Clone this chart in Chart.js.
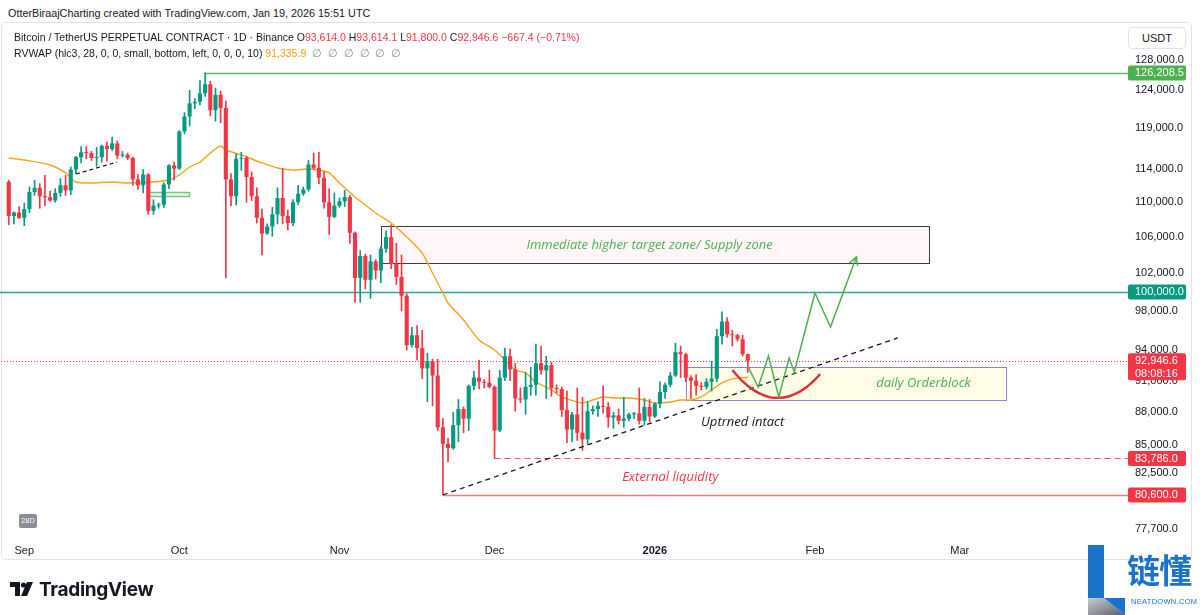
<!DOCTYPE html>
<html><head><meta charset="utf-8">
<script src="https://cdn.jsdelivr.net/npm/chart.js@4.4.1/dist/chart.umd.min.js"></script>
<style>
html,body{margin:0;padding:0;background:#fff;}
body{width:1200px;height:615px;position:relative;overflow:hidden;font-family:"Liberation Sans",Arial,sans-serif;color:#131722;}
#hdr{position:absolute;left:8px;top:7px;font-size:10.8px;white-space:nowrap;}
#frame{position:absolute;left:1px;top:22px;width:1191px;height:538px;border:1px solid #e0e3eb;border-radius:5px;box-sizing:border-box;}
#wrap{position:absolute;left:0;top:22px;width:1192px;height:538px;}
.lg{position:absolute;left:14px;font-size:10.5px;white-space:nowrap;}
.r{color:#f23645}.o{color:#f0a30a}.g{color:#8a8d96}
#usdt{position:absolute;left:1128px;top:27px;width:58px;height:22px;border:1px solid #e0e3eb;border-radius:4px;box-sizing:border-box;font-size:11px;text-align:center;line-height:20px;background:#fff;}
#b28{position:absolute;left:19px;top:514px;width:18px;height:14px;background:#8a8d96;color:#fff;font-size:7.5px;line-height:14px;text-align:center;border-radius:2px;}
#tv{position:absolute;left:10px;top:578px;height:22px;display:flex;align-items:center;}
#tv span{font-family:Inter,"Liberation Sans",sans-serif;font-weight:700;font-size:19px;color:#131722;margin-left:5px;letter-spacing:-0.3px;}
#wm{position:absolute;left:1080px;top:540px;width:120px;height:75px;}
#wmt{position:absolute;left:1127px;top:549px;font-family:"Noto Sans CJK SC",sans-serif;font-weight:700;font-size:33px;color:#1a73c8;line-height:40px;letter-spacing:-1px;}
#wms{position:absolute;left:1131px;top:597px;font-size:7.5px;color:#1a73c8;letter-spacing:0.3px;}
</style></head>
<body>
<div id="hdr">OtterBiraajCharting created with TradingView.com, Jan 19, 2026 15:51 UTC</div>
<div id="frame"></div>
<div id="wrap"><canvas id="c" width="1192" height="538"></canvas></div>
<div class="lg" style="top:31px">Bitcoin / TetherUS PERPETUAL CONTRACT · 1D · Binance O<span class="r">93,614.0</span> H<span class="r">93,614.1</span> L<span class="r">91,800.0</span> C<span class="r">92,946.6</span> <span class="r">−667.4 (−0.71%)</span></div>
<div class="lg" style="top:47px">RVWAP (hlc3, 28, 0, 0, small, bottom, left, 0, 0, 0, 10) <span class="o">91,335.9</span>&nbsp; <span class="g">∅&nbsp; ∅&nbsp; ∅&nbsp; ∅&nbsp; ∅&nbsp; ∅</span></div>
<div id="usdt">USDT</div>
<div id="b28">28D</div>
<div id="tv"><svg width="24" height="16" viewBox="0 0 24 16"><path d="M0 1h10v14h-5V6H0z" fill="#131722"/><circle cx="13.5" cy="4" r="2.6" fill="#131722"/><path d="M17 1h6l-6 14h-6z" fill="#131722"/></svg><span>TradingView</span></div>
<svg id="wm" viewBox="0 0 120 75"><defs><linearGradient id="gg" x1="0" y1="0" x2="1" y2="1"><stop offset="0" stop-color="#c9ccd1"/><stop offset="1" stop-color="#5d6068"/></linearGradient></defs><polygon points="8,5 24,5 24,58 8,58" fill="#1a73c8"/><polygon points="8,58 24,58 45,75 8,75" fill="url(#gg)"/><polygon points="24,58 45,58 45,75" fill="#1a73c8"/></svg>
<div id="wmt">链懂</div>
<div id="wms">NEATDOWN.COM</div>
<script>
// ---------- data ----------
const CAT_START = '2025-08-28';
const CAT_COUNT = 214;
const CANDLE_START = '2025-08-29';
const OPEN = [112400,108400,108800,
108200,109200,111200,111700,110700,110600,110200,111100,112000,111400,113900,115400,116000,115900,115300,115400,116800,116400,117100,115600,115700,115300,112700,112000,113300,109000,109600,109700,112100,114400,
114000,118600,120500,122200,122400,123500,124700,121300,123300,121600,112700,110700,115200,115300,113000,110700,108200,106400,107200,108600,110500,108400,107600,110000,111000,111500,114500,114100,112900,110000,108300,
109600,110100,110600,106500,101500,103900,101300,103300,102300,104700,106000,103000,101600,99600,94500,95500,94200,92200,92900,91500,86600,85100,84700,86800,88300,87400,90500,91300,90900,90800,
90400,86300,91300,93400,92100,89300,89200,90400,90600,92700,92000,92500,90300,90200,88200,86400,87800,86100,85500,88100,88300,88600,88500,87500,87700,87200,87400,87800,87900,87200,88500,
87600,88800,89900,90600,91500,93800,93600,91300,91000,90500,90400,90900,91200,95400,96900,95600,95500,95100,93614.0];
const HIGH = [112600,108900,109500,
109900,111800,112600,112200,113200,111300,111600,112800,113200,114200,115500,116700,116700,116100,116600,116900,117300,117900,117400,116100,115900,115400,113300,113900,113400,110300,109900,112300,114500,114800,
118700,121000,123900,122800,125200,126208.5,125100,124200,123800,122500,113400,115800,116000,115500,113600,111700,109200,107500,109400,111700,114000,109100,110300,112000,111800,115000,115900,116000,113600,111600,111100,
110500,111400,110800,106600,104500,104100,104000,103500,105000,106700,107400,105300,104000,99800,96300,96500,96000,93700,93100,93100,87400,85600,88000,89200,88500,90600,91900,93000,91100,92000,
90500,92000,94200,94100,92700,90300,91800,92300,94600,94400,93400,92800,90600,90400,90000,88000,90300,89400,89000,88600,89000,90500,88900,88000,88300,89400,87900,88000,90300,89300,89200,
88900,90900,90800,91800,94700,94400,93700,91500,91600,90800,91200,92900,96100,97900,97300,96000,95600,95500,93614.1];
const LOW = [107400,107500,108100,
107300,108800,110800,109300,109600,110100,110000,110700,110800,110900,113400,114700,115200,115000,114300,114800,114900,116200,115200,115400,115100,112000,111500,111100,108600,108600,109300,109400,111600,112600,
113900,118300,119300,121500,122000,123100,120600,119900,119700,101500,109600,109700,113800,110000,110200,107600,104000,106300,106100,107500,107500,106800,107300,109700,110800,111300,113900,112200,109300,106300,108200,
109400,109500,105300,98900,98900,100300,99300,101400,101000,104300,102500,100800,98000,94000,94300,93000,91200,89000,88600,86300,80600,83500,84600,85300,86100,86300,90100,90200,90300,90300,
83786,86200,91000,91000,88100,88900,87800,89600,89600,91600,89300,89500,89800,87600,85200,85300,85400,84500,85100,87800,87600,87900,86600,86500,86900,86600,87200,87400,86900,86800,87100,
87500,88400,89300,90400,91400,91300,90900,89300,89600,90100,90200,90000,90900,94600,95300,94400,94900,93400,91800.0];
const CLOSE = [108400,108800,108200,
109200,111200,111700,110700,110600,110200,111100,112000,111400,113900,115400,116000,115900,115300,115400,116800,116400,117100,115600,115700,115300,112700,112000,113300,109000,109600,109700,112100,114400,114000,
118600,120500,122200,122400,123500,124700,121300,123300,121600,112700,110700,115200,115300,113000,110700,108200,106400,107200,108600,110500,108400,107600,110000,111000,111500,114500,114100,112900,110000,108300,109600,
110100,110600,106500,101500,103900,101300,103300,102300,104700,106000,103000,101600,99600,94500,95500,94200,92200,92900,91500,86600,85100,84700,86800,88300,87400,90500,91300,90900,90800,90400,
86300,91300,93400,92100,89300,89200,90400,90600,92700,92000,92500,90300,90200,88200,86400,87800,86100,85500,88100,88300,88600,88500,87500,87700,87200,87400,87800,87900,87200,88500,87600,
88800,89900,90600,91500,93800,93600,91300,91000,90500,90400,90900,91200,95400,96900,95600,95500,95100,93600,92946.6];

const RVWAP_DATES = ['2025-08-29','2025-09-01','2025-09-06','2025-09-09','2025-09-11','2025-09-14','2025-09-18','2025-09-21','2025-09-26','2025-09-29','2025-10-01','2025-10-03','2025-10-05','2025-10-07','2025-10-09','2025-10-10','2025-10-13','2025-10-17','2025-10-20','2025-10-23','2025-10-26','2025-10-28','2025-10-30','2025-11-01','2025-11-04','2025-11-06','2025-11-08','2025-11-11','2025-11-14','2025-11-17','2025-11-19','2025-11-21','2025-11-22','2025-11-25','2025-11-28','2025-12-01','2025-12-03','2025-12-05','2025-12-07','2025-12-09','2025-12-12','2025-12-14','2025-12-17','2025-12-18','2025-12-20','2025-12-22','2025-12-24','2025-12-27','2025-12-30','2026-01-01','2026-01-04','2026-01-06','2026-01-08','2026-01-10','2026-01-12','2026-01-14','2026-01-16','2026-01-19'];
const RVWAP_VALUES = [115300,115050,114440,113480,112390,112270,112390,112270,112390,112630,113230,114200,114800,115910,116770,116280,115670,114690,114080,113840,113960,113840,113480,112270,110620,109680,108750,107600,106010,104220,102030,99890,98830,97060,95020,94010,93020,92040,91750,90870,90110,89440,88960,88870,89150,89440,89340,89340,89150,88870,88960,89150,89150,89440,90110,90780,91170,91335.9];

const Y_TICKS = [128000,124000,119000,114000,110000,106000,102000,98000,94000,91000,88000,85000,82500,80300,77700];
const Y_MIN = 76826, Y_MAX = 133225;
const MONTH_DATES = ['2025-09-01','2025-10-01','2025-11-01','2025-12-01','2026-01-01','2026-02-01','2026-03-01'];
const MONTH_NAMES = ['Sep','Oct','Nov','Dec','2026','Feb','Mar'];

const LEVEL_VALUES = [126208.5, 100000, 83786, 80600];
const LEVEL_FROM   = ['2025-10-06', null, '2025-12-01', '2025-11-21'];
const LAST_PRICE = 92946.6;
const COUNTDOWN = '08:08:16';
const TAG_VALUES = [126208.5, 100000, 83786, 80600];

const ZONE_FROM   = ['2025-11-09','2026-01-07','2025-09-25'];
const ZONE_TO     = ['2026-02-23','2026-03-10','2025-10-03'];
const ZONE_TOP    = [107260, 92330, 111200];
const ZONE_BOTTOM = [103120, 89150, 110730];

const TREND_DATES = ['2025-11-21','2026-02-17'];
const TREND_VALUES = [80600, 95230];
const SEP_TREND_DATES = ['2025-09-11','2025-09-19'];
const SEP_TREND_VALUES = [113350, 114810];
const PATH_DATES = ['2026-01-19','2026-01-21','2026-01-23','2026-01-25','2026-01-27','2026-01-28','2026-02-01','2026-02-04','2026-02-09'];
const PATH_VALUES = [92430, 90390, 93420, 89430, 93220, 91840, 99890, 96340, 103780];
const CURVE_DATES = ['2026-01-16','2026-01-18','2026-01-20','2026-01-22','2026-01-24','2026-01-26','2026-01-28','2026-01-30','2026-02-01','2026-02-02'];
const CURVE_VALUES = [92020, 90930, 90140, 89610, 89360, 89390, 89690, 90250, 91110, 91630];

const NOTE_TEXT  = ['Immediate higher target zone/ Supply zone','daily Orderblock','Uptrned intact','External liquidity'];
const NOTE_DATE  = ['2025-12-31','2026-02-22','2026-01-18','2026-01-04'];
const NOTE_PRICE = [105110, 90720, 87090, 82140];

// ---------- build ----------
function addDays(iso, n){const d=new Date(iso+'T00:00:00Z');d.setUTCDate(d.getUTCDate()+n);return d.toISOString().slice(0,10);}
const LABELS = Array.from({length:CAT_COUNT},(_,i)=>addDays(CAT_START,i));
const CANDLE_DATES = OPEN.map((_,i)=>addDays(CANDLE_START,i));
const GREEN='#089981', RED='#f23645';
const candleColors = OPEN.map((o,i)=>CLOSE[i]>=o?GREEN:RED);
const fmt = v => v.toLocaleString('en-US',{minimumFractionDigits:1,maximumFractionDigits:1});
const FONT = "'Liberation Sans', Arial, sans-serif";
Chart.defaults.font.family = FONT;
Chart.defaults.color = '#131722';

const overlay = {
  id:'overlay',
  beforeDatasetsDraw(chart){
    const {ctx, chartArea:a, scales:{x,y}} = chart;
    const X = d => x.getPixelForValue(LABELS.indexOf(d));
    const Y = v => y.getPixelForValue(v);
    ctx.save();
    const zf=['rgba(242,54,69,0.045)','rgba(255,236,130,0.18)','rgba(76,175,80,0.12)'];
    const zs=['#3a3d45','#9c7bd0','#7cc47f'];
    const zw=[1,1,1.5];
    for(let i=0;i<ZONE_FROM.length;i++){
      const x0=X(ZONE_FROM[i]), x1=X(ZONE_TO[i]), y0=Y(ZONE_TOP[i]), y1=Y(ZONE_BOTTOM[i]);
      ctx.fillStyle=zf[i]; ctx.fillRect(x0,y0,x1-x0,y1-y0);
      ctx.strokeStyle=zs[i]; ctx.lineWidth=zw[i]; ctx.strokeRect(Math.round(x0)+0.5,Math.round(y0)+0.5,Math.round(x1-x0),Math.round(y1-y0));
    }
    const lc=['#66bb6a','#22ab94','#f7525f','#f17c86'];
    const ld=[[],[],[6,4],[]];
    const lw=[1.5,1.5,1.2,1.5];
    for(let i=0;i<LEVEL_VALUES.length;i++){
      const yy=Math.round(Y(LEVEL_VALUES[i]))+0.5;
      const x0=LEVEL_FROM[i]?X(LEVEL_FROM[i]):a.left-1;
      ctx.strokeStyle=lc[i]; ctx.lineWidth=lw[i]; ctx.setLineDash(ld[i]);
      ctx.beginPath(); ctx.moveTo(x0,yy); ctx.lineTo(1128,yy); ctx.stroke();
    }
    const yl=Math.round(Y(LAST_PRICE))+0.5;
    ctx.strokeStyle='#f23645'; ctx.lineWidth=1; ctx.setLineDash([1,2]);
    ctx.beginPath(); ctx.moveTo(a.left,yl); ctx.lineTo(1128,yl); ctx.stroke();
    ctx.restore();
  },
  afterDatasetsDraw(chart){
    const {ctx, scales:{x,y}} = chart;
    const X = d => x.getPixelForValue(LABELS.indexOf(d));
    const Y = v => y.getPixelForValue(v);
    ctx.save();
    const meta = chart.getDatasetMeta(5);
    const pts = meta.data; const p1=pts[pts.length-2], p2=pts[pts.length-1];
    const ang=Math.atan2(p2.y-p1.y,p2.x-p1.x);
    ctx.strokeStyle='#4caf50'; ctx.lineWidth=1.5; ctx.setLineDash([]);
    ctx.beginPath();
    ctx.moveTo(p2.x-9*Math.cos(ang-0.5),p2.y-9*Math.sin(ang-0.5));
    ctx.lineTo(p2.x,p2.y);
    ctx.lineTo(p2.x-9*Math.cos(ang+0.5),p2.y-9*Math.sin(ang+0.5));
    ctx.stroke();
    const nc=['#4caf50','#4caf50','#131722','#f23645'];
    ctx.font="italic 13px 'Open Sans', sans-serif"; ctx.textAlign='center'; ctx.textBaseline='middle';
    for(let i=0;i<NOTE_TEXT.length;i++){ctx.fillStyle=nc[i]; ctx.fillText(NOTE_TEXT[i],X(NOTE_DATE[i]),Y(NOTE_PRICE[i]));}
    ctx.restore();
  },
  afterDraw(chart){
    const {ctx, scales:{y}} = chart;
    ctx.save();
    const bg=['#4caf50','#089981','#f23645','#f23645'];
    ctx.font="11px "+FONT; ctx.textBaseline='middle'; ctx.textAlign='left';
    const tag=(yy,h,col)=>{ctx.fillStyle=col; ctx.beginPath(); ctx.roundRect(1128,yy,58,h,2); ctx.fill();};
    for(let i=0;i<TAG_VALUES.length;i++){
      const yy=y.getPixelForValue(TAG_VALUES[i]);
      tag(yy-7.5,15,bg[i]); ctx.fillStyle='#fff'; ctx.fillText(fmt(TAG_VALUES[i]),1135,yy+0.5);
    }
    const yl=y.getPixelForValue(LAST_PRICE);
    tag(yl-7.5,27,'#f23645'); ctx.fillStyle='#fff';
    ctx.fillText(fmt(LAST_PRICE),1135,yl+0.5); ctx.fillText(COUNTDOWN,1135,yl+13);
    ctx.restore();
  }
};

const pts=(ds,vs)=>ds.map((d,i)=>({x:d,y:vs[i]}));
new Chart(document.getElementById('c'),{
  type:'bar',
  data:{labels:LABELS,datasets:[
    {type:'line',data:pts(RVWAP_DATES,RVWAP_VALUES),borderColor:'#f5a31a',borderWidth:1.4,pointRadius:0,tension:0.25,order:6},
    {type:'bar',data:CANDLE_DATES.map((d,i)=>({x:d,y:[LOW[i],HIGH[i]]})),backgroundColor:candleColors,barThickness:1,grouped:false,order:5},
    {type:'bar',data:CANDLE_DATES.map((d,i)=>({x:d,y:[OPEN[i],CLOSE[i]]})),backgroundColor:candleColors,barPercentage:0.8,categoryPercentage:1,grouped:false,minBarLength:1,order:4},
    {type:'line',data:pts(TREND_DATES,TREND_VALUES),borderColor:'#131722',borderWidth:1.3,borderDash:[5,4],pointRadius:0,order:3},
    {type:'line',data:pts(SEP_TREND_DATES,SEP_TREND_VALUES),borderColor:'#131722',borderWidth:1.2,borderDash:[4,3],pointRadius:0,order:3},
    {type:'line',data:pts(PATH_DATES,PATH_VALUES),borderColor:'#4caf50',borderWidth:1.5,pointRadius:0,order:2},
    {type:'line',data:pts(CURVE_DATES,CURVE_VALUES),borderColor:'#e02f3c',borderWidth:2.5,pointRadius:0,cubicInterpolationMode:'monotone',order:2}
  ]},
  options:{
    responsive:false,animation:false,events:[],
    layout:{padding:{left:1,right:0,top:0,bottom:0}},
    plugins:{legend:{display:false},tooltip:{enabled:false}},
    scales:{
      x:{type:'category',offset:true,grid:{display:false,drawTicks:false},border:{display:false},
        ticks:{autoSkip:false,maxRotation:0,minRotation:0,padding:4,color:'#131722',
          font:(c)=>({size:11,family:FONT,weight:(LABELS[c.index]==='2026-01-01')?'bold':'normal'}),
          callback:(v,i)=>{const k=MONTH_DATES.indexOf(LABELS[i]);return k>=0?MONTH_NAMES[k]:'';}},
        afterFit:(s)=>{s.height=20;s.paddingLeft=0;s.paddingRight=0;}},
      y:{type:'logarithmic',position:'right',min:Y_MIN,max:Y_MAX,grid:{display:false,drawTicks:false},border:{display:false},
        ticks:{padding:28,color:'#131722',font:{size:11,family:FONT},callback:(v)=>fmt(v)},
        afterBuildTicks:(s)=>{s.ticks=Y_TICKS.map(v=>({value:v}));},
        afterFit:(s)=>{s.width=85;s.paddingTop=0;s.paddingBottom=0;}}
    }
  },
  plugins:[overlay]
});
</script>
</body></html>
